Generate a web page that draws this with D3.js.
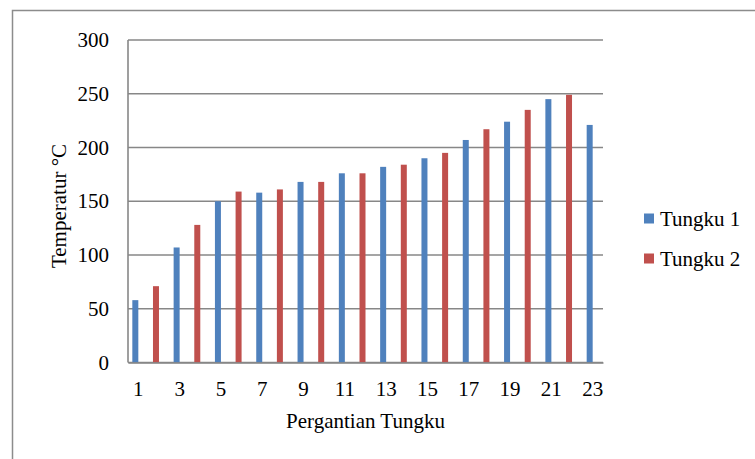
<!DOCTYPE html>
<html>
<head>
<meta charset="utf-8">
<script src="https://cdn.jsdelivr.net/npm/d3@7"></script>
<style>
  body { margin: 0; background: white; }
  text { font-family: "Liberation Serif", "Times New Roman", serif; fill: #000; }
</style>
</head>
<body>
<div id="container"></div>
<script>
let w = 755;
let h = 459;

// DATA
let categories = [1, 2, 3, 4, 5, 6, 7, 8, 9, 10, 11, 12, 13, 14, 15, 16, 17, 18, 19, 20, 21, 22, 23];
let tungku1 = [58, null, 107, null, 150, null, 158, null, 168, null, 176, null, 182, null, 190, null, 207, null, 224, null, 245, null, 221];
let tungku2 = [null, 71, null, 128, null, 159, null, 161, null, 168, null, 176, null, 184, null, 195, null, 217, null, 235, null, 249, null];
let yTicks = [0, 50, 100, 150, 200, 250, 300];
let seriesNames = ["Tungku 1", "Tungku 2"];
let seriesColors = ["#4F81BD", "#C0504D"];

let plotLeft = 128, plotRight = 603, plotTop = 40, plotBottom = 362.5;
let barW = 6;
let gridColor = "#878787";
let fontSize = "21px";

let viz = d3.select("#container").append("svg")
    .attr("width", w)
    .attr("height", h)
    .style("display", "block")
    .style("background-color", "white");

// outer chart border (runs off the picture on right and bottom)
viz.append("rect")
    .attr("x", 12.5)
    .attr("y", 10.5)
    .attr("width", w)
    .attr("height", h)
    .attr("fill", "none")
    .attr("stroke", "#8c8c8c")
    .attr("stroke-width", 1.5);

// SCALES
let xScale = d3.scaleBand().domain(categories).range([plotLeft, plotRight]).padding(0);
let yScale = d3.scaleLinear().domain([0, 300]).range([plotBottom, plotTop]);

// gridlines
viz.selectAll(".grid").data(yTicks).enter()
  .append("line")
    .attr("class", "grid")
    .attr("x1", plotLeft)
    .attr("x2", plotRight)
    .attr("y1", d => yScale(d))
    .attr("y2", d => yScale(d))
    .attr("stroke", gridColor)
    .attr("stroke-width", 1.6);

// left axis line
viz.append("line")
    .attr("x1", plotLeft).attr("x2", plotLeft)
    .attr("y1", plotTop).attr("y2", plotBottom)
    .attr("stroke", gridColor)
    .attr("stroke-width", 1.6);

// BARS
let rows = [];
categories.forEach(function(c, i){
  if(tungku1[i] != null) rows.push({cat: c, value: tungku1[i], s: 0});
  if(tungku2[i] != null) rows.push({cat: c, value: tungku2[i], s: 1});
});

viz.selectAll(".bar").data(rows).enter()
  .append("rect")
    .attr("class", "bar")
    .attr("x", d => xScale(d.cat) + xScale.bandwidth() / 2 - barW)
    .attr("width", barW)
    .attr("y", d => yScale(d.value))
    .attr("height", d => yScale(0) - yScale(d.value))
    .attr("fill", d => seriesColors[d.s]);

// Y AXIS
let yAxis = d3.axisLeft(yScale).tickValues(yTicks).tickSize(0).tickPadding(19);
let yG = viz.append("g").attr("transform", "translate(" + plotLeft + ",0)").call(yAxis);
yG.select(".domain").remove();
yG.selectAll("text")
    .style("font-family", "'Liberation Serif', 'Times New Roman', serif")
    .style("font-size", fontSize)
    .attr("fill", "#000");

// X AXIS
let xAxis = d3.axisBottom(xScale)
    .tickValues(categories.filter(d => d % 2 == 1))
    .tickSize(0)
    .tickPadding(19);
let xG = viz.append("g").attr("transform", "translate(0," + plotBottom + ")").call(xAxis);
xG.select(".domain")
    .attr("stroke", gridColor)
    .attr("stroke-width", 1.6);
xG.selectAll("text")
    .style("font-family", "'Liberation Serif', 'Times New Roman', serif")
    .style("font-size", fontSize)
    .attr("fill", "#000");

// axis titles
viz.append("text")
    .attr("x", (plotLeft + plotRight) / 2)
    .attr("y", 428)
    .attr("text-anchor", "middle")
    .style("font-size", fontSize)
    .text("Pergantian Tungku");

viz.append("text")
    .attr("transform", "translate(66,206) rotate(-90)")
    .attr("text-anchor", "middle")
    .style("font-size", fontSize)
    .text("Temperatur °C");

// LEGEND
let legend = viz.selectAll(".legend").data(seriesNames).enter()
  .append("g")
    .attr("class", "legend")
    .attr("transform", (d, i) => "translate(644," + (213.5 + i * 40) + ")");

legend.append("rect")
    .attr("width", 10)
    .attr("height", 10)
    .attr("fill", (d, i) => seriesColors[i]);

legend.append("text")
    .attr("x", 16)
    .attr("y", 12.5)
    .style("font-size", fontSize)
    .text(d => d);
</script>
</body>
</html>
